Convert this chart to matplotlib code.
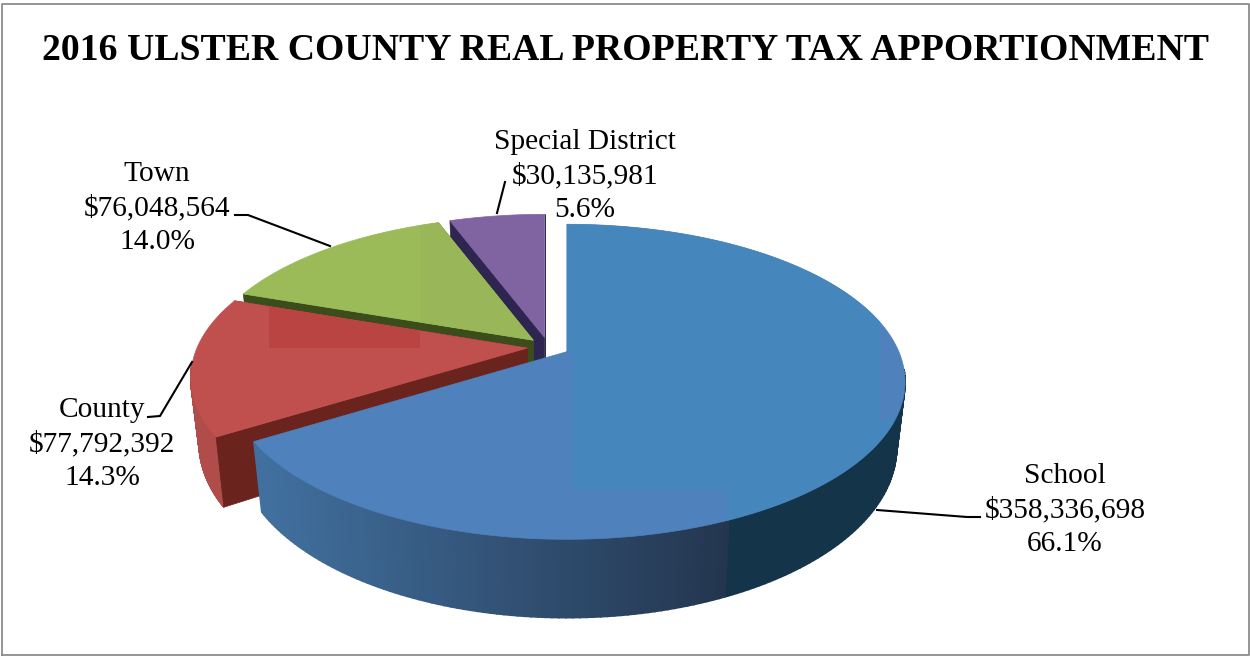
import numpy as np
import matplotlib
matplotlib.use('Agg')
import matplotlib.pyplot as plt
from matplotlib.patches import Rectangle

plt.rcParams['font.family'] = ['Liberation Serif', 'DejaVu Serif']

titulo = '2016 ULSTER COUNTY REAL PROPERTY TAX APPORTIONMENT'
categorias = ['School', 'County', 'Town', 'Special District']
valores = [358336698, 77792392, 76048564, 30135981]

colores_top = ['#4F81BD', '#C0504D', '#9BBB59', '#8064A2']
colores_corte = ['#26405F', '#6B231E', '#3A4D1B', '#2E2550']
colores_borde = ['#26405F', '#B04C49', '#7C9647', '#66508A']

# posicion de cada etiqueta (centro x, centro y)
etiquetas_xy = [(1065, 510), (102, 444), (157, 208), (585, 176)]
lineas_guia = [
    [(877, 510), (967, 517), (980, 517)],
    [(148, 417), (160, 416), (192, 362)],
    [(235, 215), (248, 215), (330, 246)],
    [(497, 213), (505, 182)],
]

# parametros de la proyeccion del disco
cx, cy = 548.4, 347
rx, ry = 330, 150
k = 0.19
explode = 0.064
prof = 63
encoge = 0.975


def proyectar(u, v, u0, abajo=False):
    # u0 es el desplazamiento de la porcion, sin perspectiva en x
    s = 1 / (1 + k * v)
    centro = cx + rx * u0
    x = centro + rx * (u - u0) * s
    y = cy - ry * v * s
    if abajo:
        x = centro + (x - centro) * encoge
        y = y + prof * s
    return x, y


def mezclar(c1, c2, t):
    a = np.array(matplotlib.colors.to_rgb(c1))
    b = np.array(matplotlib.colors.to_rgb(c2))
    return tuple(a + (b - a) * t)


def color_borde_school(x):
    # degradado lateral de School, con el corte oscuro a la derecha
    if x > 727:
        return '#14344A'
    t = np.clip((x - 260) / (727 - 260), 0, 1)
    return mezclar('#41709F', '#24364F', t)


fig, ax = plt.subplots(figsize=(12.5, 6.56), dpi=100)
ax.set_position([0, 0, 1, 1])
ax.set_xlim(0, 1250)
ax.set_ylim(656, 0)
ax.axis('off')

total = sum(valores)
fracciones = [v / total for v in valores]
inicios = np.cumsum([0] + fracciones[:-1]) * 2 * np.pi
finales = np.cumsum(fracciones) * 2 * np.pi

# de atras hacia adelante
tops = {}
for i in [3, 2, 1, 0]:
    a0, a1 = inicios[i], finales[i]
    medio = (a0 + a1) / 2
    u0 = explode * np.sin(medio)
    v0 = explode * np.cos(medio)
    ang = np.linspace(a0, a1, 240)
    u = u0 + np.sin(ang)
    v = v0 + np.cos(ang)

    xt, yt = proyectar(u, v, u0)
    xb, yb = proyectar(u, v, u0, abajo=True)
    xa, ya = proyectar(u0, v0, u0)
    xab, yab = proyectar(u0, v0, u0, abajo=True)

    # borde exterior, la parte de atras no se ve
    for j in range(len(ang) - 1):
        if np.cos(ang[j]) > -0.1:
            continue
        xm = (xt[j] + xt[j + 1]) / 2
        col = color_borde_school(xm) if i == 0 else colores_borde[i]
        ax.fill([xt[j], xt[j + 1], xb[j + 1], xb[j]],
                [yt[j], yt[j + 1], yb[j + 1], yb[j]], color=col, lw=1.2)

    # caras de corte, las de School quedan ocultas
    if i != 0:
        for j in [0, -1]:
            ax.fill([xa, xt[j], xb[j], xab], [ya, yt[j], yb[j], yab],
                    color=colores_corte[i], lw=0.5)

    # cara superior
    top = ax.fill(np.r_[xa, xt], np.r_[ya, yt], color=colores_top[i], lw=0.5)[0]
    tops[i] = top

# parches rectangulares que tiene la imagen original
parches = [
    (0, 573, 200, 307, 290, '#4586BD'),
    (0, 560, 200, 13, 152, '#4586BD'),
    (0, 727, 490, 178, 70, '#4586BD'),
    (0, 880, 420, 30, 70, '#4586BD'),
    (1, 269, 280, 151, 68, '#B94442'),
    (2, 420, 200, 130, 160, '#99B758'),
]
for i, x, y, w, h, col in parches:
    r = Rectangle((x, y), w, h, facecolor=col, edgecolor='none')
    ax.add_patch(r)
    r.set_clip_path(tops[i])

for puntos in lineas_guia:
    xs, ys = zip(*puntos)
    ax.plot(xs, ys, color='black', lw=1.5)

for nombre, valor, (x, y) in zip(categorias, valores, etiquetas_xy):
    texto = f'{nombre}\n${valor:,}\n{valor / total * 100:.1f}%'
    ax.text(x, y, texto, ha='center', va='center', fontsize=21.2,
            linespacing=1.36, color='black')

ax.text(626, 50, titulo, ha='center', va='center', fontsize=27.2,
        fontweight='bold', color='black')

# marco del grafico
ax.plot([2, 2, 1249, 1249, 2], [655, 4, 4, 655, 655], color='#8C8C8C', lw=1.3)

fig.savefig('out.png', dpi=100)
